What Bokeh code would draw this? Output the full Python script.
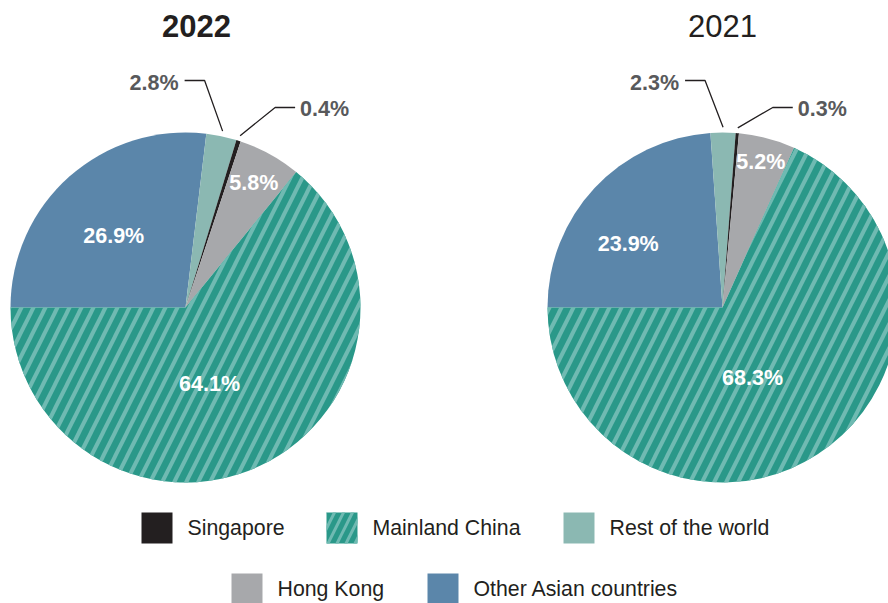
import numpy as np
from bokeh.plotting import figure
from bokeh.models import Range1d
from bokeh.core.properties import value
from bokeh.embed import file_html
from bokeh.resources import INLINE

# ---------------- data ----------------
categories = ["Other Asian countries", "Rest of the world", "Singapore", "Hong Kong", "Mainland China"]
values_2022 = [26.9, 2.8, 0.4, 5.8, 64.1]
values_2021 = [23.9, 2.3, 0.3, 5.2, 68.3]
years = ["2022", "2021"]
legend_row1 = ["Singapore", "Mainland China", "Rest of the world"]
legend_row2 = ["Hong Kong", "Other Asian countries"]

# ---------------- style ----------------
colors = {
    "Other Asian countries": "#5b86aa",
    "Rest of the world": "#8bb8b2",
    "Singapore": "#231f20",
    "Hong Kong": "#a7a8ab",
    "Mainland China": "#2a9889",
}
STRIPE = "#6fbab2"
LABEL_GRAY = "#58595b"
DARK = "#231f20"
FONT = value("Liberation Sans")

W, H = 888, 603
R = 175
centers = [(185, H - 307), (722, H - 307)]
title_dx = [11, 0]
title_bold = [True, False]
inside_cats = ["Other Asian countries", "Hong Kong", "Mainland China"]
# (angle shift in degrees, radius fraction) for inside labels
inside_pos = [
    {"Other Asian countries": (-3.4, 0.58), "Hong Kong": (0.0, 0.81), "Mainland China": (8.0, 0.46)},
    {"Other Asian countries": (-9.0, 0.65), "Hong Kong": (0.0, 0.86), "Mainland China": (10.0, 0.44)},
]

p = figure(width=W, height=H, x_range=Range1d(0, W), y_range=Range1d(0, H),
           output_backend="svg", toolbar_location=None, min_border=0,
           background_fill_color="white", border_fill_color="white")
p.axis.visible = False
p.grid.visible = False
p.outline_line_color = None

for k, vals in enumerate([values_2022, values_2021]):
    cx, cy = centers[k]
    fr = np.array(vals) / sum(vals)
    cum = np.concatenate([[0], np.cumsum(fr)])
    for i, cat in enumerate(categories):
        a0 = np.pi - 2 * np.pi * cum[i]
        a1 = np.pi - 2 * np.pi * cum[i + 1]
        kw = dict(x=cx, y=cy, radius=R, start_angle=a0, end_angle=a1, direction="clock",
                  fill_color=colors[cat], line_color=None)
        if cat == "Mainland China":
            kw.update(hatch_pattern="/", hatch_color=STRIPE, hatch_weight=4, hatch_scale=24)
        p.wedge(**kw)
        mid = 360 * (cum[i] + cum[i + 1]) / 2 + 270  # compass degrees
        lab = f"{vals[i]:.1f}%"
        if cat in inside_cats:
            shift, rf = inside_pos[k][cat]
            th = np.radians(mid + shift)
            p.text(x=[cx + rf * R * np.sin(th)], y=[cy + rf * R * np.cos(th)], text=[lab],
                   text_font=FONT, text_font_style="bold", text_font_size="21.5px",
                   text_color="white", text_align="center", text_baseline="middle")
        else:
            th = np.radians(mid)
            sx = cx + 1.03 * R * np.sin(th)
            sy = cy + 1.03 * R * np.cos(th)
            if cat == "Rest of the world":
                ex, ey = sx - 18, cy + 227
                hx = ex - 20
                p.line(x=[sx, ex, hx], y=[sy, ey, ey], line_color=DARK, line_width=1.3)
                p.text(x=[hx - 6], y=[ey - 2], text=[lab], text_font=FONT, text_font_style="bold",
                       text_font_size="21.5px", text_color=LABEL_GRAY, text_align="right",
                       text_baseline="middle")
            else:
                ex, ey = sx + 35, cy + 200
                hx = ex + 20
                p.line(x=[sx, ex, hx], y=[sy, ey, ey], line_color=DARK, line_width=1.3)
                p.text(x=[hx + 5], y=[ey - 1], text=[lab], text_font=FONT, text_font_style="bold",
                       text_font_size="21.5px", text_color=LABEL_GRAY, text_align="left",
                       text_baseline="middle")
    p.text(x=[cx + title_dx[k]], y=[H - 25], text=[years[k]], text_font=FONT,
           text_font_style="bold" if title_bold[k] else "normal", text_font_size="31px",
           text_color=DARK, text_align="center", text_baseline="middle")

# ---------------- legend ----------------
SW = 31
rows = [(legend_row1, [141, 326, 563], H - 527.5), (legend_row2, [231, 427], H - 588.5)]
for labels, xs, yc in rows:
    for lab, x0 in zip(labels, xs):
        kw = dict(x=x0 + SW / 2, y=yc, width=SW, height=SW, fill_color=colors[lab], line_color=None)
        if lab == "Mainland China":
            kw.update(hatch_pattern="/", hatch_color=STRIPE, hatch_weight=3, hatch_scale=18)
        p.rect(**kw)
        p.text(x=[x0 + SW + 15], y=[yc], text=[lab], text_font=FONT, text_font_size="21.3px",
               text_color=DARK, text_align="left", text_baseline="middle")

open("out.html", "w").write(file_html(p, INLINE))
